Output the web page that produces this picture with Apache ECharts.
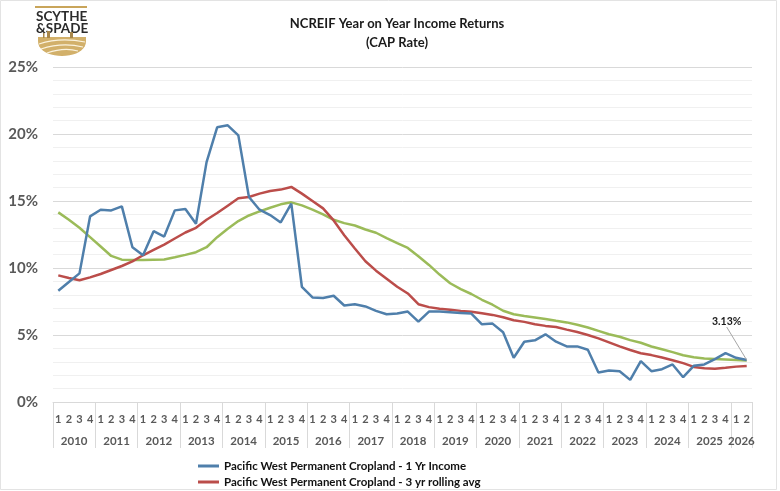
<!DOCTYPE html>
<html>
<head>
<meta charset="utf-8">
<script src="https://cdn.jsdelivr.net/npm/echarts@6/dist/echarts.min.js"></script>
<style>
html,body{margin:0;padding:0;background:#fff;}
#chart{width:780px;height:491px;}
</style>
</head>
<body>
<div id="chart"></div>
<script>
// ---- data ----
const years = ['2010','2011','2012','2013','2014','2015','2016','2017','2018','2019','2020','2021','2022','2023','2024','2025','2026'];
const quartersInYear = [4,4,4,4,4,4,4,4,4,4,4,4,4,4,4,4,2];
const yTicks = [0,5,10,15,20,25];

const income1yr = [
  8.3, 8.95, 9.6, 13.85, 14.35, 14.3, 14.6, 11.55, 10.95, 12.75,
  12.35, 14.3, 14.4, 13.3, 17.9, 20.5, 20.65, 19.9, 15.3, 14.35,
  13.95, 13.4, 14.8, 8.6, 7.8, 7.76, 7.93, 7.2, 7.3, 7.13,
  6.8, 6.55, 6.6, 6.75, 6.0, 6.75, 6.75, 6.7, 6.65, 6.6,
  5.8, 5.85, 5.2, 3.3, 4.5, 4.6, 5.05, 4.5, 4.15, 4.15,
  3.9, 2.2, 2.35, 2.3, 1.65, 3.05, 2.3, 2.45, 2.8, 1.85,
  2.7, 2.8, 3.2, 3.65, 3.3, 3.13
];
const rolling3yr = [
  9.45, 9.25, 9.08, 9.3, 9.55, 9.85, 10.15, 10.5, 10.95, 11.35,
  11.75, 12.2, 12.65, 13.0, 13.6, 14.1, 14.65, 15.2, 15.3, 15.55,
  15.75, 15.85, 16.05, 15.55, 15.0, 14.45, 13.55, 12.45, 11.45, 10.5,
  9.8, 9.2, 8.6, 8.1, 7.3, 7.08, 6.96, 6.88, 6.8, 6.74,
  6.62, 6.5, 6.32, 6.1, 5.98, 5.8, 5.68, 5.6, 5.4, 5.22,
  5.0, 4.75, 4.45, 4.15, 3.88, 3.64, 3.5, 3.32, 3.12, 2.9,
  2.62, 2.52, 2.49, 2.56, 2.64, 2.69
];
const trendLine = [
  14.15, 13.6, 13.0, 12.3, 11.6, 10.9, 10.62, 10.6, 10.6, 10.62,
  10.63, 10.8, 10.98, 11.18, 11.55, 12.3, 12.93, 13.5, 13.92, 14.22,
  14.5, 14.75, 14.9, 14.67, 14.35, 14.0, 13.6, 13.35, 13.17, 12.87,
  12.63, 12.23, 11.85, 11.5, 10.88, 10.23, 9.51, 8.86, 8.43, 8.06,
  7.63, 7.26, 6.81, 6.55, 6.42, 6.31, 6.19, 6.06, 5.94, 5.76,
  5.56, 5.31, 5.06, 4.87, 4.62, 4.42, 4.14, 3.94, 3.72, 3.49,
  3.34, 3.24, 3.2, 3.18, 3.14, 3.1
];
const seriesNames = ['Pacific West Permanent Cropland - 1 Yr Income', 'Pacific West Permanent Cropland - 3 yr rolling avg'];

// ---- derived axis labels ----
const quarterLabels = [];
const yearSlots = [];
const yearBoundaries = [0];
years.forEach((y, k) => {
  for (let q = 1; q <= quartersInYear[k]; q++) quarterLabels.push(String(q));
  yearBoundaries.push(quarterLabels.length);
});
for (let j = 0; j <= quarterLabels.length; j++) yearSlots.push('');
years.forEach((y, k) => {
  const center = (yearBoundaries[k] + yearBoundaries[k + 1]) / 2;
  yearSlots[center] = y;
});

const last = income1yr.length - 1;
const FONT = 'Lato, "Open Sans", sans-serif';

// logo shield outline (half-ellipse bottom)
function shieldPoints() {
  const pts = [[38, 37]];
  pts.push([86, 37]);
  for (let i = 0; i <= 20; i++) {
    const th = (i / 20) * Math.PI;
    pts.push([62 + 24 * Math.cos(th), 41 + 15 * Math.pow(Math.sin(th), 0.9)]);
  }
  return pts;
}

const legendText = {fontFamily: FONT, fontSize: 11.5, fontWeight: 'bold', color: '#111'};

const chart = echarts.init(document.getElementById('chart'), null, {renderer: 'canvas'});
chart.setOption({
  backgroundColor: '#ffffff',
  animation: false,
  textStyle: {fontFamily: FONT},
  title: {
    text: 'NCREIF Year on Year Income Returns\n(CAP Rate)',
    left: 392, top: 9, textAlign: 'center',
    textStyle: {fontFamily: FONT, fontSize: 13, fontWeight: 'bold', color: '#1a1a1a', lineHeight: 19}
  },
  legend: [
    {data: [seriesNames[0]], left: 198, top: 460, itemWidth: 21, itemHeight: 3, icon: 'rect', itemGap: 2, textStyle: legendText, padding: 0},
    {data: [seriesNames[1]], left: 198, top: 476, itemWidth: 21, itemHeight: 3, icon: 'rect', itemGap: 2, textStyle: legendText, padding: 0}
  ],
  grid: {left: 53, right: 28, top: 67, bottom: 89, containLabel: false},
  xAxis: [
    {
      type: 'category', data: quarterLabels, boundaryGap: true, position: 'bottom',
      axisLine: {show: true, lineStyle: {color: '#d9d9d9', width: 1}},
      axisTick: {show: false},
      axisLabel: {interval: 0, margin: 12, fontSize: 11, fontWeight: 'bold', color: '#595959', fontFamily: FONT}
    },
    {
      type: 'category', data: yearSlots, boundaryGap: false, position: 'bottom', offset: 0,
      axisLine: {show: false},
      axisTick: {show: true, length: 46, interval: (idx) => yearBoundaries.indexOf(idx) >= 0, lineStyle: {color: '#d9d9d9', width: 1}},
      axisLabel: {interval: 0, margin: 33, fontSize: 11.5, fontWeight: 'bold', color: '#595959', fontFamily: FONT}
    }
  ],
  yAxis: {
    type: 'value', min: yTicks[0], max: yTicks[yTicks.length - 1], interval: 5,
    axisLine: {show: false}, axisTick: {show: false},
    axisLabel: {formatter: '{value}%', margin: 15, fontSize: 15, fontWeight: 'bold', color: '#595959', fontFamily: FONT},
    splitLine: {show: true, lineStyle: {color: '#d9d9d9', width: 1}},
    minorTick: {show: false, splitNumber: 5},
    minorSplitLine: {show: true, lineStyle: {color: '#f0f0f0', width: 1}}
  },
  series: [
    {
      name: 'trend', type: 'line', data: trendLine, xAxisIndex: 0,
      showSymbol: false, symbol: 'none',
      lineStyle: {color: '#9bbb59', width: 2.5}, itemStyle: {color: '#9bbb59'}, z: 2
    },
    {
      name: seriesNames[1], type: 'line', data: rolling3yr, xAxisIndex: 0,
      showSymbol: false, symbol: 'none',
      lineStyle: {color: '#bb4d4a', width: 2.5}, itemStyle: {color: '#bb4d4a'}, z: 3
    },
    {
      name: seriesNames[0], type: 'line', xAxisIndex: 0,
      data: income1yr.map((v, i) => i === last ? {
        value: v,
        label: {show: true, position: 'top', formatter: v.toFixed(2) + '%', fontSize: 10.5, fontWeight: 'bold', color: '#1a1a1a', fontFamily: FONT}
      } : v),
      symbol: 'circle', symbolSize: 0.01, showSymbol: true, showAllSymbol: true,
      labelLayout: (p) => p.dataIndex === last ? {dx: -20, dy: -28} : {},
      labelLine: {show: true, lineStyle: {color: '#a6a6a6', width: 1}},
      emphasis: {disabled: true},
      lineStyle: {color: '#4f7fab', width: 2.5}, itemStyle: {color: '#4f7fab'}, z: 4
    }
  ],
  graphic: [
    {type: 'rect', shape: {x: 0.5, y: 0.5, width: 776, height: 489}, style: {fill: 'none', stroke: '#e3e3e3', lineWidth: 1}, silent: true},
    {type: 'line', shape: {x1: 35, y1: 7, x2: 87, y2: 7}, style: {stroke: '#c9a55a', lineWidth: 2}},
    {type: 'text', x: 36, y: 10, style: {text: 'SCYTHE', font: 'bold 13.5px ' + FONT, fill: '#2b2b2b'}},
    {type: 'text', x: 36, y: 22, style: {text: '&SPADE', font: 'bold 13.5px ' + FONT, fill: '#2b2b2b'}},
    {type: 'polygon', shape: {points: shieldPoints()}, style: {fill: '#d2b06a'}},
    {type: 'bezierCurve', shape: {x1: 39, y1: 44, x2: 85, y2: 42, cpx1: 60, cpy1: 37}, style: {fill: 'none', stroke: '#fbf3de', lineWidth: 1.2}},
    {type: 'bezierCurve', shape: {x1: 41, y1: 49, x2: 83, y2: 47, cpx1: 62, cpy1: 42}, style: {fill: 'none', stroke: '#fbf3de', lineWidth: 1.2}},
    {type: 'bezierCurve', shape: {x1: 47, y1: 53, x2: 78, y2: 51, cpx1: 64, cpy1: 47}, style: {fill: 'none', stroke: '#fbf3de', lineWidth: 1.2}},
    {type: 'rect', shape: {x: 47, y: 31, width: 3, height: 7}, style: {fill: '#a8874a'}},
    {type: 'rect', shape: {x: 43, y: 33, width: 1.5, height: 5}, style: {fill: '#a8874a'}},
    {type: 'rect', shape: {x: 70, y: 32, width: 3, height: 6}, style: {fill: '#a8874a'}}
  ]
});
</script>
</body>
</html>
